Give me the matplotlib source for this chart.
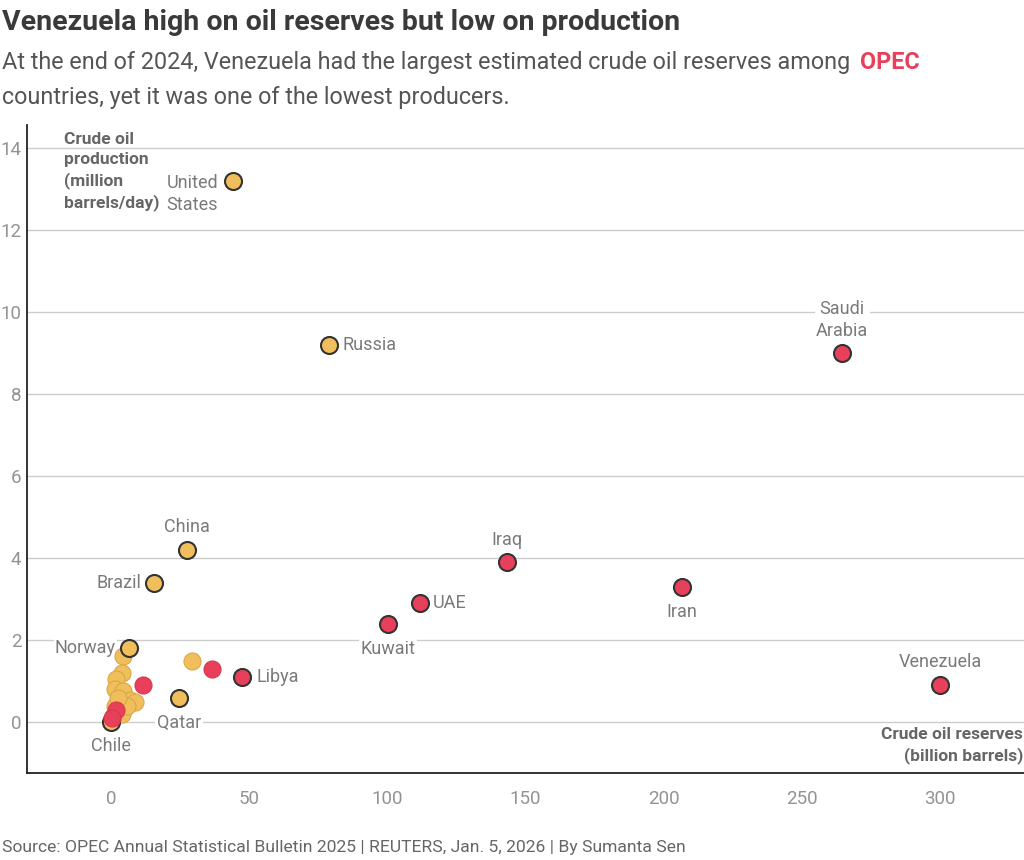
import matplotlib
matplotlib.use("Agg")
import matplotlib.pyplot as plt

plt.rcParams['font.family'] = ['Roboto', 'DejaVu Sans']

# Labelled countries
names = ["United\nStates", "Russia", "Saudi\nArabia", "China", "Brazil", "Iraq", "Iran",
         "UAE", "Kuwait", "Norway", "Libya", "Venezuela", "Qatar", "Chile"]
reserves = [44.2, 78.9, 264.6, 27.5, 15.6, 143.3, 206.7, 111.8, 100.3, 6.5, 47.4, 300.0, 24.6, 0.0]
production = [13.2, 9.2, 9.0, 4.2, 3.4, 3.9, 3.3, 2.9, 2.4, 1.8, 1.1, 0.9, 0.6, 0.0]
opec = [False, False, True, False, False, True, True, True, True, False, True, True, False, False]

# Unlabelled countries
other_reserves = [29.3, 4.5, 3.9, 1.8, 1.4, 4.5, 6.9, 8.7, 1.4, 3.9, 5.7, 2.5, 0.8,
                  36.6, 11.6, 1.8, 0.5]
other_production = [1.5, 1.6, 1.2, 1.05, 0.8, 0.75, 0.55, 0.5, 0.4, 0.2, 0.4, 0.6, 0.15,
                    1.3, 0.9, 0.3, 0.1]
other_opec = [False] * 13 + [True] * 4

# label offsets in pixels (dx, dy, ha)
offsets = {
    "United\nStates": (-41, -13, "center"),
    "Russia": (13, 0, "left"),
    "Saudi\nArabia": (0, 33, "center"),
    "China": (0, 23, "center"),
    "Brazil": (-13, 0, "right"),
    "Iraq": (0, 22, "center"),
    "Iran": (0, -25, "center"),
    "UAE": (13, 0, "left"),
    "Kuwait": (0, -25, "center"),
    "Norway": (-13, 0, "right"),
    "Libya": (14, 0, "left"),
    "Venezuela": (0, 23, "center"),
    "Qatar": (0, -25, "center"),
    "Chile": (0, -24, "center"),
}

YELLOW = "#F0BE5A"
RED = "#E8405A"
GREY_TXT = "#7a7a7a"

fig = plt.figure(figsize=(10.24, 8.6), dpi=100)
ax = fig.add_axes([0.0264, 0.1012, 0.9736, 0.7535])

ax.set_xlim(-30.4, 330.4)
ax.set_ylim(-1.24, 14.56)
ax.set_yticks(range(0, 15, 2))
ax.set_xticks(range(0, 301, 50))
ax.grid(axis='y', color='#cccccc', lw=1, zorder=0.5)
ax.set_axisbelow(True)
ax.tick_params(length=0, labelsize=13.5, labelcolor='#939393', pad=12)
ax.tick_params(axis='y', pad=4)
for s in ['top', 'right']:
    ax.spines[s].set_visible(False)
ax.spines['left'].set_color('#222222')
ax.spines['bottom'].set_color('#222222')
ax.spines['left'].set_linewidth(1.3)
ax.spines['bottom'].set_linewidth(1.3)

# unlabelled points
for r, p, o in zip(other_reserves, other_production, other_opec):
    if not o:
        ax.scatter(r, p, s=150, color=YELLOW, edgecolor='#d9a748', lw=0.8, zorder=3)
for r, p, o in zip(reserves, production, opec):
    if not o:
        ax.scatter(r, p, s=150, color=YELLOW, edgecolor='#333333', lw=1.5, zorder=4)
for r, p, o in zip(other_reserves, other_production, other_opec):
    if o:
        ax.scatter(r, p, s=150, color=RED, edgecolor='#d8364f', lw=0.8, zorder=5)
for r, p, o in zip(reserves, production, opec):
    if o:
        ax.scatter(r, p, s=150, color=RED, edgecolor='#333333', lw=1.5, zorder=6)

for n, r, p in zip(names, reserves, production):
    dx, dy, ha = offsets[n]
    ax.annotate(n, (r, p), xytext=(dx, dy), textcoords='offset pixels',
                ha=ha, va='center', fontsize=13, color=GREY_TXT, linespacing=1.3,
                bbox=dict(fc='white', ec='none', pad=1), zorder=2)

ax.text(0.037, 0.989, "Crude oil\nproduction\n(million\nbarrels/day)", transform=ax.transAxes,
        ha='left', va='top', fontsize=12.5, fontweight='bold', color='#666666', linespacing=1.4)
ax.text(0.999, 0.071, "Crude oil reserves\n(billion barrels)", transform=ax.transAxes,
        ha='right', va='top', fontsize=12.5, fontweight='bold', color='#666666',
        multialignment='right', linespacing=1.4)

fig.text(0.002, 0.974, "Venezuela high on oil reserves but low on production",
         fontsize=20.5, fontweight='bold', color='#3a3a3a', ha='left', va='center')
sub1 = fig.text(0.002, 0.927, "At the end of 2024, Venezuela had the largest estimated crude oil reserves among",
                fontsize=16.8, color='#555555', ha='left', va='center')
fig.text(0.002, 0.887, "countries, yet it was one of the lowest producers.",
         fontsize=16.8, color='#555555', ha='left', va='center')
fig.canvas.draw()
bb = sub1.get_window_extent()
fig.text((bb.x1 + 10) / fig.bbox.width, 0.927, "OPEC", fontsize=16.8, fontweight='bold',
         color=RED, ha='left', va='center')

fig.text(0.002, 0.014, "Source: OPEC Annual Statistical Bulletin 2025 | REUTERS, Jan. 5, 2026 | By Sumanta Sen",
         fontsize=12.6, color='#666666', ha='left', va='center')

fig.savefig("out.png", dpi=100)
